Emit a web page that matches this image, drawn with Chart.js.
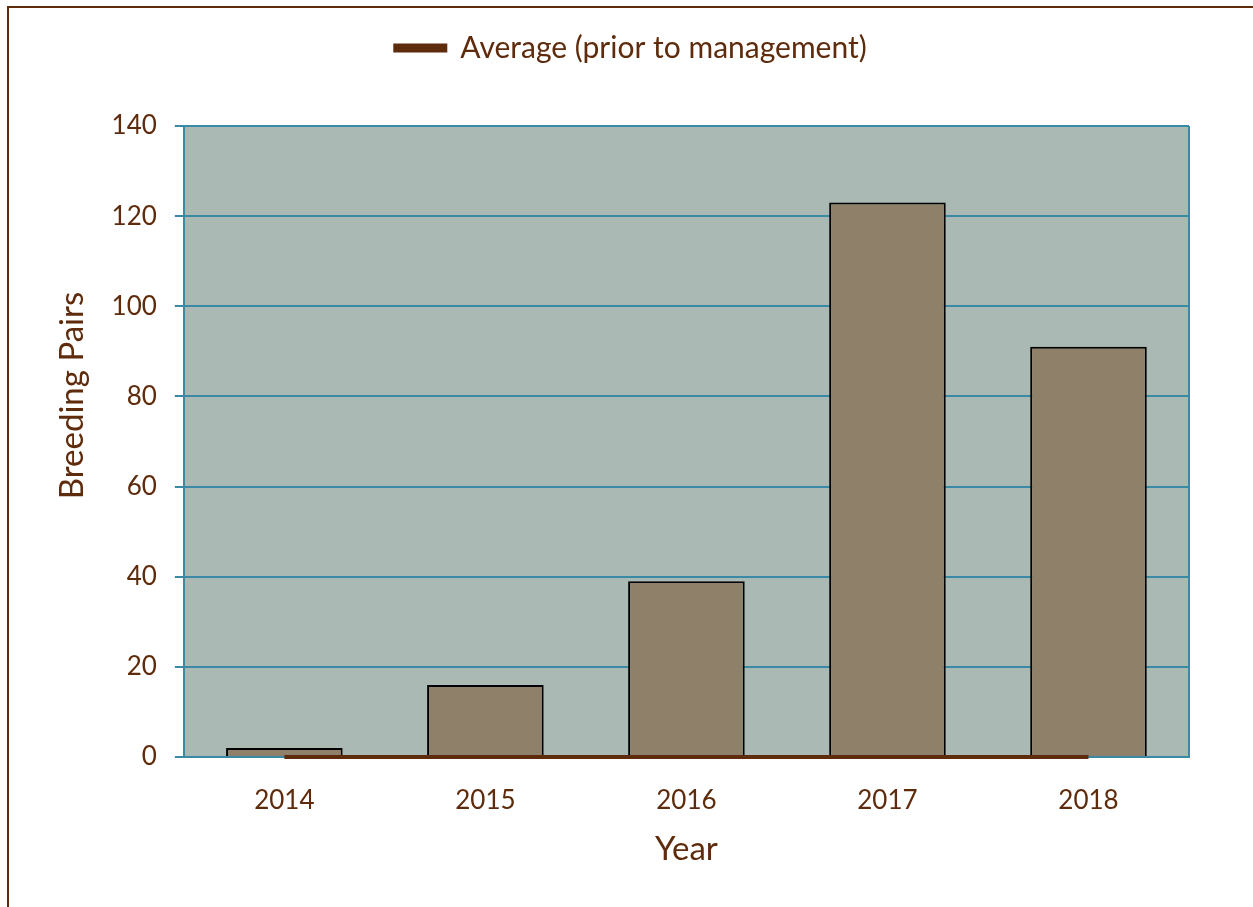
<!DOCTYPE html>
<html>
<head>
<meta charset="utf-8">
<script src="https://cdn.jsdelivr.net/npm/chart.js@4"></script>
<style>
  body { margin: 0; background: #fff; overflow: hidden; }
  #frame { position: absolute; left: 7px; top: 6px; width: 1400px; height: 1100px; border: 2px solid #5e2b0c; }
  #wrap { position: absolute; left: 0; top: 0; width: 1253px; height: 907px; }
</style>
</head>
<body>
<div id="frame"></div>
<div id="wrap"><canvas id="myChart"></canvas></div>
<script>
var years = ["2014", "2015", "2016", "2017", "2018"];
var pairs = [2, 16, 39, 123, 91];
var average = [0, 0, 0, 0, 0];

var brown = "#5e2b0c";
var teal = "#3a89a5";

// shaded plot area + right border
var plotBg = {
  id: "plotBg",
  beforeDraw: function (chart) {
    var a = chart.chartArea, ctx = chart.ctx;
    ctx.save();
    ctx.fillStyle = "#aab9b4";
    ctx.fillRect(a.left, a.top, a.right - a.left, a.bottom - a.top);
    ctx.strokeStyle = teal;
    ctx.lineWidth = 2;
    ctx.beginPath();
    ctx.moveTo(a.right, a.top);
    ctx.lineTo(a.right, a.bottom);
    ctx.stroke();
    ctx.restore();
  }
};

// extra room under the legend, legend nudged right, y title sits a bit high
var tweaks = {
  id: "tweaks",
  beforeInit: function (chart) {
    var fit = chart.legend.fit;
    chart.legend.fit = function () {
      fit.bind(chart.legend)();
      this.height += 53;
    };
  },
  afterLayout: function (chart) {
    chart.legend.left += 12;
    chart.legend.right += 12;
    var y = chart.scales.y;
    if (!y._titleMoved) {
      var drawTitle = y.drawTitle;
      y.drawTitle = function () {
        var b = this.bottom;
        this.bottom -= 92;
        drawTitle.call(this);
        this.bottom = b;
      };
      y._titleMoved = true;
    }
  }
};

new Chart("myChart", {
  type: "bar",
  data: {
    labels: years,
    datasets: [
      {
        type: "line",
        label: "Average (prior to management)",
        data: average,
        borderColor: brown,
        backgroundColor: brown,
        borderWidth: 4,
        pointRadius: 0,
        clip: false,
        order: 0
      },
      {
        label: "Breeding Pairs",
        data: pairs,
        backgroundColor: "#8f806a",
        borderColor: "#000",
        borderWidth: 2,
        barPercentage: 0.58,
        categoryPercentage: 1,
        order: 1
      }
    ]
  },
  options: {
    responsive: true,
    maintainAspectRatio: false,
    animation: false,
    layout: { padding: { left: 49, right: 64, top: 13, bottom: 37 } },
    plugins: {
      legend: {
        display: true,
        labels: {
          filter: function (item) { return item.datasetIndex === 0; },
          color: brown,
          font: { family: "Lato", size: 30 },
          boxWidth: 50,
          boxHeight: 5,
          padding: 20
        }
      },
      tooltip: { enabled: false }
    },
    scales: {
      x: {
        grid: { display: false },
        border: { display: true, color: teal, width: 2 },
        ticks: { color: brown, font: { family: "Lato", size: 26, lineHeight: 1 }, padding: 23 },
        title: { display: true, text: "Year", color: brown, font: { family: "Lato", size: 33, lineHeight: 1 }, padding: { top: -4 } }
      },
      y: {
        min: 0,
        max: 140,
        ticks: { stepSize: 20, color: brown, font: { family: "Lato", size: 26 }, padding: 18 },
        grid: { color: teal, lineWidth: 2, tickLength: 9 },
        border: { color: teal, width: 2 },
        title: { display: true, text: "Breeding Pairs", color: brown, font: { family: "Lato", size: 33 }, padding: { bottom: 1 } }
      }
    }
  },
  plugins: [plotBg, tweaks]
});
</script>
</body>
</html>
